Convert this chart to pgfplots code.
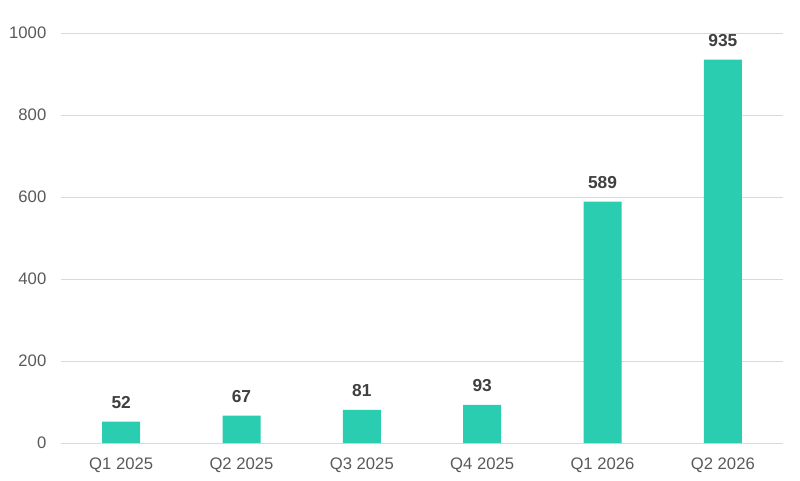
\documentclass[border=0pt]{standalone}
\usepackage{pgfplots}
\pgfplotsset{compat=1.18}
\usepackage{fontspec}
\setmainfont{Liberation Sans}
\definecolor{barc}{HTML}{2ACDB0}
\definecolor{gridc}{HTML}{D9D9D9}
\definecolor{tickc}{HTML}{595959}
\definecolor{labc}{HTML}{404040}
\begin{document}
\begin{tikzpicture}
\useasboundingbox (0,0) rectangle (600pt,360pt);
\begin{axis}[
  at={(45.75pt,27.75pt)}, anchor=south west,
  scale only axis, width=541.5pt, height=307.5pt,
  xmin=-0.5, xmax=5.5, ymin=0, ymax=1000,
  xtick={0,1,2,3,4,5},
  xticklabels={Q1 2025,Q2 2025,Q3 2025,Q4 2025,Q1 2026,Q2 2026},
  ytick={0,200,400,600,800,1000},
  ymajorgrids, grid style={gridc, line width=0.75pt},
  axis line style={draw=none},
  axis x line*=bottom,
  x axis line style={draw=gridc, line width=0.75pt},
  major tick length=0pt,
  tick label style={font=\fontsize{12.5}{14}\selectfont, text=tickc},
  /pgf/number format/assume math mode=true,
  /pgf/number format/1000 sep={},
  yticklabel style={xshift=-7.5pt},
  xticklabel style={yshift=-7.5pt},
  ybar, bar width=28.5pt,
  nodes near coords,
  every node near coord/.append style={font=\bfseries\fontsize{13}{15}\selectfont, text=labc, yshift=6pt},
  clip=false,
]
\addplot[fill=barc, draw=none] coordinates {(0,52) (1,67) (2,81) (3,93) (4,589) (5,935)};
\end{axis}
\end{tikzpicture}
\end{document}
